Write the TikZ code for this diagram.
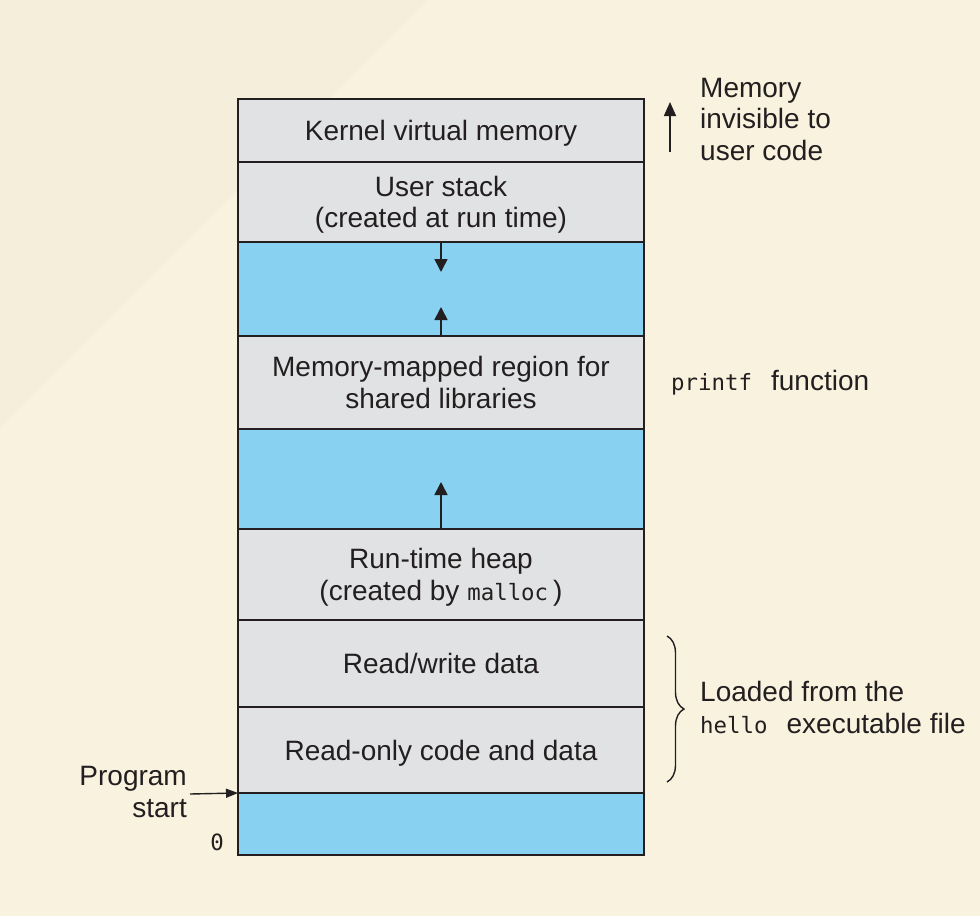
\documentclass[tikz,border=0pt]{standalone}
\usepackage{fontspec}
\setmainfont{Liberation Sans}
\newfontfamily\monof{DejaVu Sans Mono}
\usetikzlibrary{arrows.meta,decorations.pathreplacing}
\definecolor{bgcream}{HTML}{F8F2DE}
\definecolor{bgband}{HTML}{F4EEDA}
\definecolor{regiongray}{HTML}{E1E2E3}
\definecolor{regionblue}{HTML}{88D1F1}
\definecolor{ink}{HTML}{231F20}
\newcommand{\mono}[1]{{\monof\fontsize{22.4}{31.5}\selectfont #1}}
\begin{document}
\begin{tikzpicture}[x=1pt,y=-1pt,
  every node/.style={font=\fontsize{28}{31.5}\selectfont, text=ink},
  region/.style={draw=ink, line width=2.6pt, minimum width=406pt, inner sep=0pt, outer sep=0pt, anchor=north west, align=center, text depth=0pt},
  grayregion/.style={region, fill=regiongray},
  blueregion/.style={region, fill=regionblue},
  lowertext/.style={text depth=-4.5pt},
  growarrow/.style={draw=ink, line width=1.6pt, -{Triangle[length=13pt,width=13pt]}},
  sidetext/.style={inner sep=0pt, align=left, anchor=base west},
]
\useasboundingbox (0,0) rectangle (980,916);
\fill[bgcream] (0,0) rectangle (980,916);
\fill[bgband] (0,0) -- (427,0) -- (0,427) -- cycle;

% memory regions
\node[grayregion, lowertext, minimum height=63pt] (kernel) at (238,99) {Kernel virtual memory};
\node[grayregion, minimum height=80pt] (stack) at (238,162) {User stack\\(created at run time)};
\node[blueregion, minimum height=94pt] (gapa) at (238,242) {};
\node[grayregion, minimum height=93pt] (mmap) at (238,336) {Memory-mapped region for\\shared libraries};
\node[blueregion, minimum height=100pt] (gapb) at (238,429) {};
\node[grayregion, lowertext, minimum height=91pt] (heap) at (238,529) {Run-time heap\\(created by \mono{malloc}\hspace{5pt})};
\node[grayregion, lowertext, minimum height=87pt] (rwdata) at (238,620) {Read/write data};
\node[grayregion, minimum height=86pt] (rodata) at (238,707) {Read-only code and data};
\node[blueregion, minimum height=62pt] (low) at (238,793) {};

% growth arrows
\coordinate (stacktip) at (441,272);
\coordinate (mmaptip) at (441,307);
\coordinate (heaptip) at (441,482);
\draw[growarrow] (stack.south) -- (stacktip);
\draw[growarrow] (mmap.north) -- (mmaptip);
\draw[growarrow] (heap.north) -- (heaptip);

% right side labels
\coordinate (invisbase) at (670,152);
\coordinate (invistip) at (670,102);
\draw[draw=ink, line width=1.6pt, -{Triangle[length=14pt,width=12pt]}] (invisbase) -- (invistip);
\node[sidetext] (invis) at (700,160) {Memory\\invisible to\\user code};

\node[sidetext] (printf) at (671,390) {\mono{printf}\hspace{19pt}function};

\coordinate (bracetop) at (667,636);
\coordinate (bracebot) at (667,782);
\draw[draw=ink, line width=1.4pt, decorate, decoration={brace, amplitude=17pt}] (bracetop) -- (bracebot);
\node[sidetext] (loaded) at (700,733) {Loaded from the\\\mono{hello}\hspace{19pt}executable file};

% left side labels
\node[inner sep=0pt, align=right, anchor=base east] (pstart) at (187,817) {Program\\start};
\coordinate (pstarttail) at (190,794);
\draw[draw=ink, line width=1.4pt, -{Triangle[length=12pt,width=9pt]}] (pstarttail) -- (low.north west);
\node[inner sep=0pt, anchor=base east] (zero) at (224,850) {\mono{0}};
\end{tikzpicture}
\end{document}
